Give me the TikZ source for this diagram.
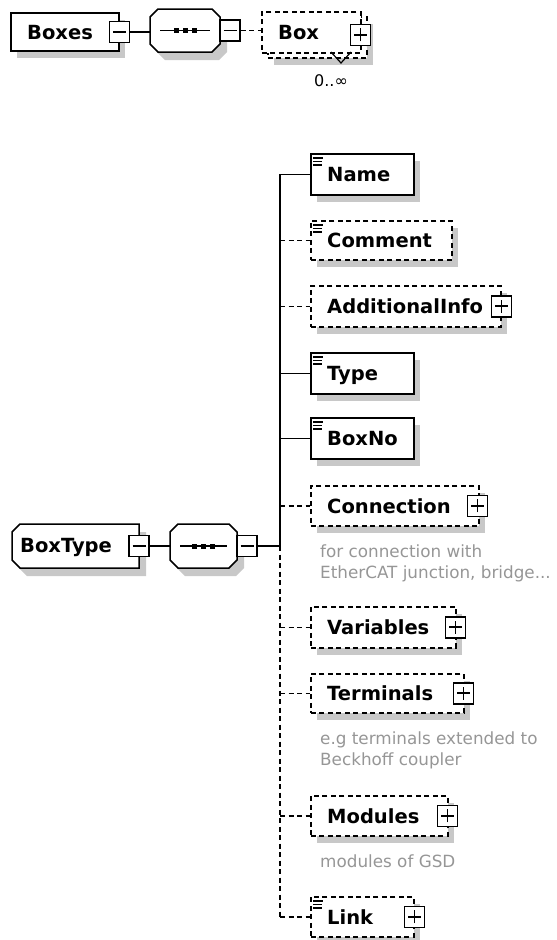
\documentclass[tikz,border=0pt]{standalone}
\usepackage{fontspec}
\setmainfont{DejaVu Sans}
\definecolor{shadowgray}{RGB}{200,200,200}
\definecolor{annogray}{RGB}{150,150,150}
\tikzset{
  ln/.style={line width=1.5pt},
  dln/.style={line width=1.5pt, dash pattern=on 5pt off 3.5pt},
  solidbox/.style={draw, line width=1.5pt, fill=white, inner sep=0pt},
  dashbox/.style={draw, line width=1.5pt, dash pattern=on 5pt off 3.5pt, fill=white, inner sep=0pt},
  pmbox/.style={draw, line width=1.5pt, fill=white, minimum width=20pt, minimum height=21pt, inner sep=0pt},
  lbl/.style={font=\fontsize{19.5}{22}\selectfont\bfseries, inner sep=0pt},
  anno/.style={font=\fontsize{16.8}{21}\selectfont, text=annogray, inner sep=0pt},
  shade/.style={fill=shadowgray},
  ghost/.style={inner sep=0pt, outer sep=0pt},
}
% element box: name, x0, y0, x1, y1, style, label
\newcommand\elembox[7]{%
  \pgfmathsetmacro\elw{#4-#2}%
  \pgfmathsetmacro\elh{#5-#3}%
  \fill[shade] (#2+7,#3+8) rectangle (#4+7,#5+8);
  \node[#6, minimum width=\elw pt, minimum height=\elh pt, anchor=north west] (#1) at (#2,#3) {};
  \node[lbl, anchor=base west] (#1-t) at ([xshift=17pt,yshift=-7.5pt]#1.west) {#7};
}
% simple-content marker in the top left corner
\newcommand\docicon[1]{%
  \draw[line width=1.2pt] ([shift={(3pt,-5pt)}]#1.north west) -- ++(10pt,0pt)
     ([shift={(3pt,-8.5pt)}]#1.north west) -- ++(9pt,0pt)
     ([shift={(3pt,-12pt)}]#1.north west) -- ++(9pt,0pt);
}
% expand / collapse buttons
\newcommand\plusbox[2]{%
  \node[pmbox] (#1) at (#2) {};
  \draw[line width=1.7pt] ([xshift=-6.5pt]#1.center) -- ([xshift=6.5pt]#1.center)
     ([yshift=-6.5pt]#1.center) -- ([yshift=6.5pt]#1.center);
}
\newcommand\minusbox[2]{%
  \node[pmbox] (#1) at (#2) {};
  \draw[line width=1.7pt] ([xshift=-6.5pt]#1.center) -- ([xshift=6.5pt]#1.center);
}
% octagon of a sequence compositor around an anchor node
\newcommand\octagon[2]{%
  \path[#2] ([xshift=8pt]#1.north west) -- ([xshift=-8pt]#1.north east)
    -- ([yshift=-8pt]#1.north east) -- ([yshift=8pt]#1.south east)
    -- ([xshift=-8pt]#1.south east) -- ([xshift=8pt]#1.south west)
    -- ([yshift=8pt]#1.south west) -- ([yshift=-8pt]#1.north west) -- cycle;
}
\newcommand\seqsymbol[1]{%
  \draw[line width=1.5pt] ([xshift=10pt]#1.west) -- ([xshift=-10pt]#1.east);
  \fill ([xshift=-9pt]#1.center) +(-2.5pt,-2.5pt) rectangle +(2.5pt,2.5pt);
  \fill (#1.center) +(-2.5pt,-2.5pt) rectangle +(2.5pt,2.5pt);
  \fill ([xshift=9pt]#1.center) +(-2.5pt,-2.5pt) rectangle +(2.5pt,2.5pt);
}
\begin{document}
\begin{tikzpicture}[x=1pt, y=-1pt]
\useasboundingbox (0,0) rectangle (557,940);

% ---------- Boxes element ----------
\elembox{boxes}{10}{12}{118}{50}{solidbox}{Boxes}
\minusbox{boxes-m}{boxes.east}

\node[ghost, minimum width=70pt, minimum height=43pt] (seqA) at (185,30.5) {};
\node[ghost, minimum width=70pt, minimum height=43pt] (seqA-s) at (192,38.5) {};
\octagon{seqA-s}{shade}
\octagon{seqA}{draw, line width=1.5pt, fill=white}
\seqsymbol{seqA}
\minusbox{seqA-m}{[xshift=10pt]seqA.east}
\draw[ln] (boxes-m.east) -- (boxes-m.east -| seqA.west);

% repeated Box element (stacked)
\fill[shade] (274,24) rectangle (373,65);
\node[dashbox, minimum width=99pt, minimum height=41pt, anchor=north west] (boxB) at (267,16) {};
\node[dashbox, minimum width=99pt, minimum height=41pt, anchor=north west] (boxF) at (261,11) {};
\node[lbl, anchor=base west] (boxF-t) at ([xshift=17pt,yshift=-7.5pt]boxF.west) {Box};
\plusbox{boxF-p}{[xshift=-1pt,yshift=-2.5pt]boxF.east}
\draw[line width=1.2pt] (331,52) -- (341,63) -- (351,52);
\node[font=\fontsize{16}{18}\selectfont, inner sep=0pt] (occ) at (331,81) {0..∞};
\draw[dln] (seqA-m.east) -- (seqA-m.east -| boxF.west);

% ---------- BoxType complex type ----------
\node[ghost, minimum width=127pt, minimum height=44pt, anchor=north west] (btype) at (12,524) {};
\node[ghost, minimum width=127pt, minimum height=44pt, anchor=north west] (btype-s) at (19,532) {};
\path[shade] ([xshift=8pt]btype-s.north west) -- (btype-s.north east) -- (btype-s.south east)
  -- ([xshift=8pt]btype-s.south west) -- ([yshift=8pt]btype-s.south west)
  -- ([yshift=-8pt]btype-s.north west) -- cycle;
\path[draw, line width=1.5pt, fill=white] ([xshift=8pt]btype.north west) -- (btype.north east) -- (btype.south east)
  -- ([xshift=8pt]btype.south west) -- ([yshift=8pt]btype.south west)
  -- ([yshift=-8pt]btype.north west) -- cycle;
\node[lbl, anchor=base west] (btype-t) at ([xshift=8pt,yshift=-6.5pt]btype.west) {BoxType};
\minusbox{btype-m}{btype.east}

\node[ghost, minimum width=67pt, minimum height=44pt] (seqB) at (203.5,546) {};
\node[ghost, minimum width=67pt, minimum height=44pt] (seqB-s) at (210.5,554) {};
\octagon{seqB-s}{shade}
\octagon{seqB}{draw, line width=1.5pt, fill=white}
\seqsymbol{seqB}
\minusbox{seqB-m}{[xshift=10pt]seqB.east}
\draw[ln] (btype-m.east) -- (btype-m.east -| seqB.west);

\coordinate (trunk) at (280,546);
\draw[ln] (seqB-m.east) -- (seqB-m.east -| trunk);

% ---------- children of the sequence ----------
\elembox{name}{310}{153}{413}{194}{solidbox}{Name}
\docicon{name}
\elembox{comment}{310}{220}{451}{259}{dashbox}{Comment}
\docicon{comment}
\elembox{addinfo}{310}{285}{500}{326}{dashbox}{AdditionalInfo}
\plusbox{addinfo-p}{addinfo.east}
\elembox{type}{310}{352}{413}{393}{solidbox}{Type}
\docicon{type}
\elembox{boxno}{310}{417}{413}{458}{solidbox}{BoxNo}
\docicon{boxno}
\elembox{conn}{310}{485}{478}{525}{dashbox}{Connection}
\plusbox{conn-p}{[xshift=-2pt]conn.east}
\elembox{vars}{310}{606}{455}{647}{dashbox}{Variables}
\plusbox{vars-p}{[xshift=-1pt]vars.east}
\elembox{terms}{310}{673}{463}{712}{dashbox}{Terminals}
\plusbox{terms-p}{[xshift=-1pt]terms.east}
\elembox{mods}{310}{795}{447}{835}{dashbox}{Modules}
\plusbox{mods-p}{[xshift=-1pt]mods.east}
\elembox{link}{310}{896}{413}{936}{dashbox}{Link}
\docicon{link}
\plusbox{link-p}{link.east}

% annotations
\node[anno, anchor=base west] (conn-n1) at (320,557) {for connection with};
\node[anno, anchor=base west] (conn-n2) at (320,578) {EtherCAT junction, bridge...};
\node[anno, anchor=base west] (terms-n1) at (320,744) {e.g terminals extended to};
\node[anno, anchor=base west] (terms-n2) at (320,765) {Beckhoff coupler};
\node[anno, anchor=base west] (mods-n1) at (320,867) {modules of GSD};

% trunk and branches
\draw[ln] (trunk |- name.west) -- (trunk);
\draw[dln] (trunk) -- (trunk |- link.west);
\foreach \c in {name, type, boxno}
  \draw[ln] (trunk |- \c.west) -- (\c.west);
\foreach \c in {comment, addinfo, conn, vars, terms, mods, link}
  \draw[dln] (trunk |- \c.west) -- (\c.west);
\end{tikzpicture}
\end{document}
